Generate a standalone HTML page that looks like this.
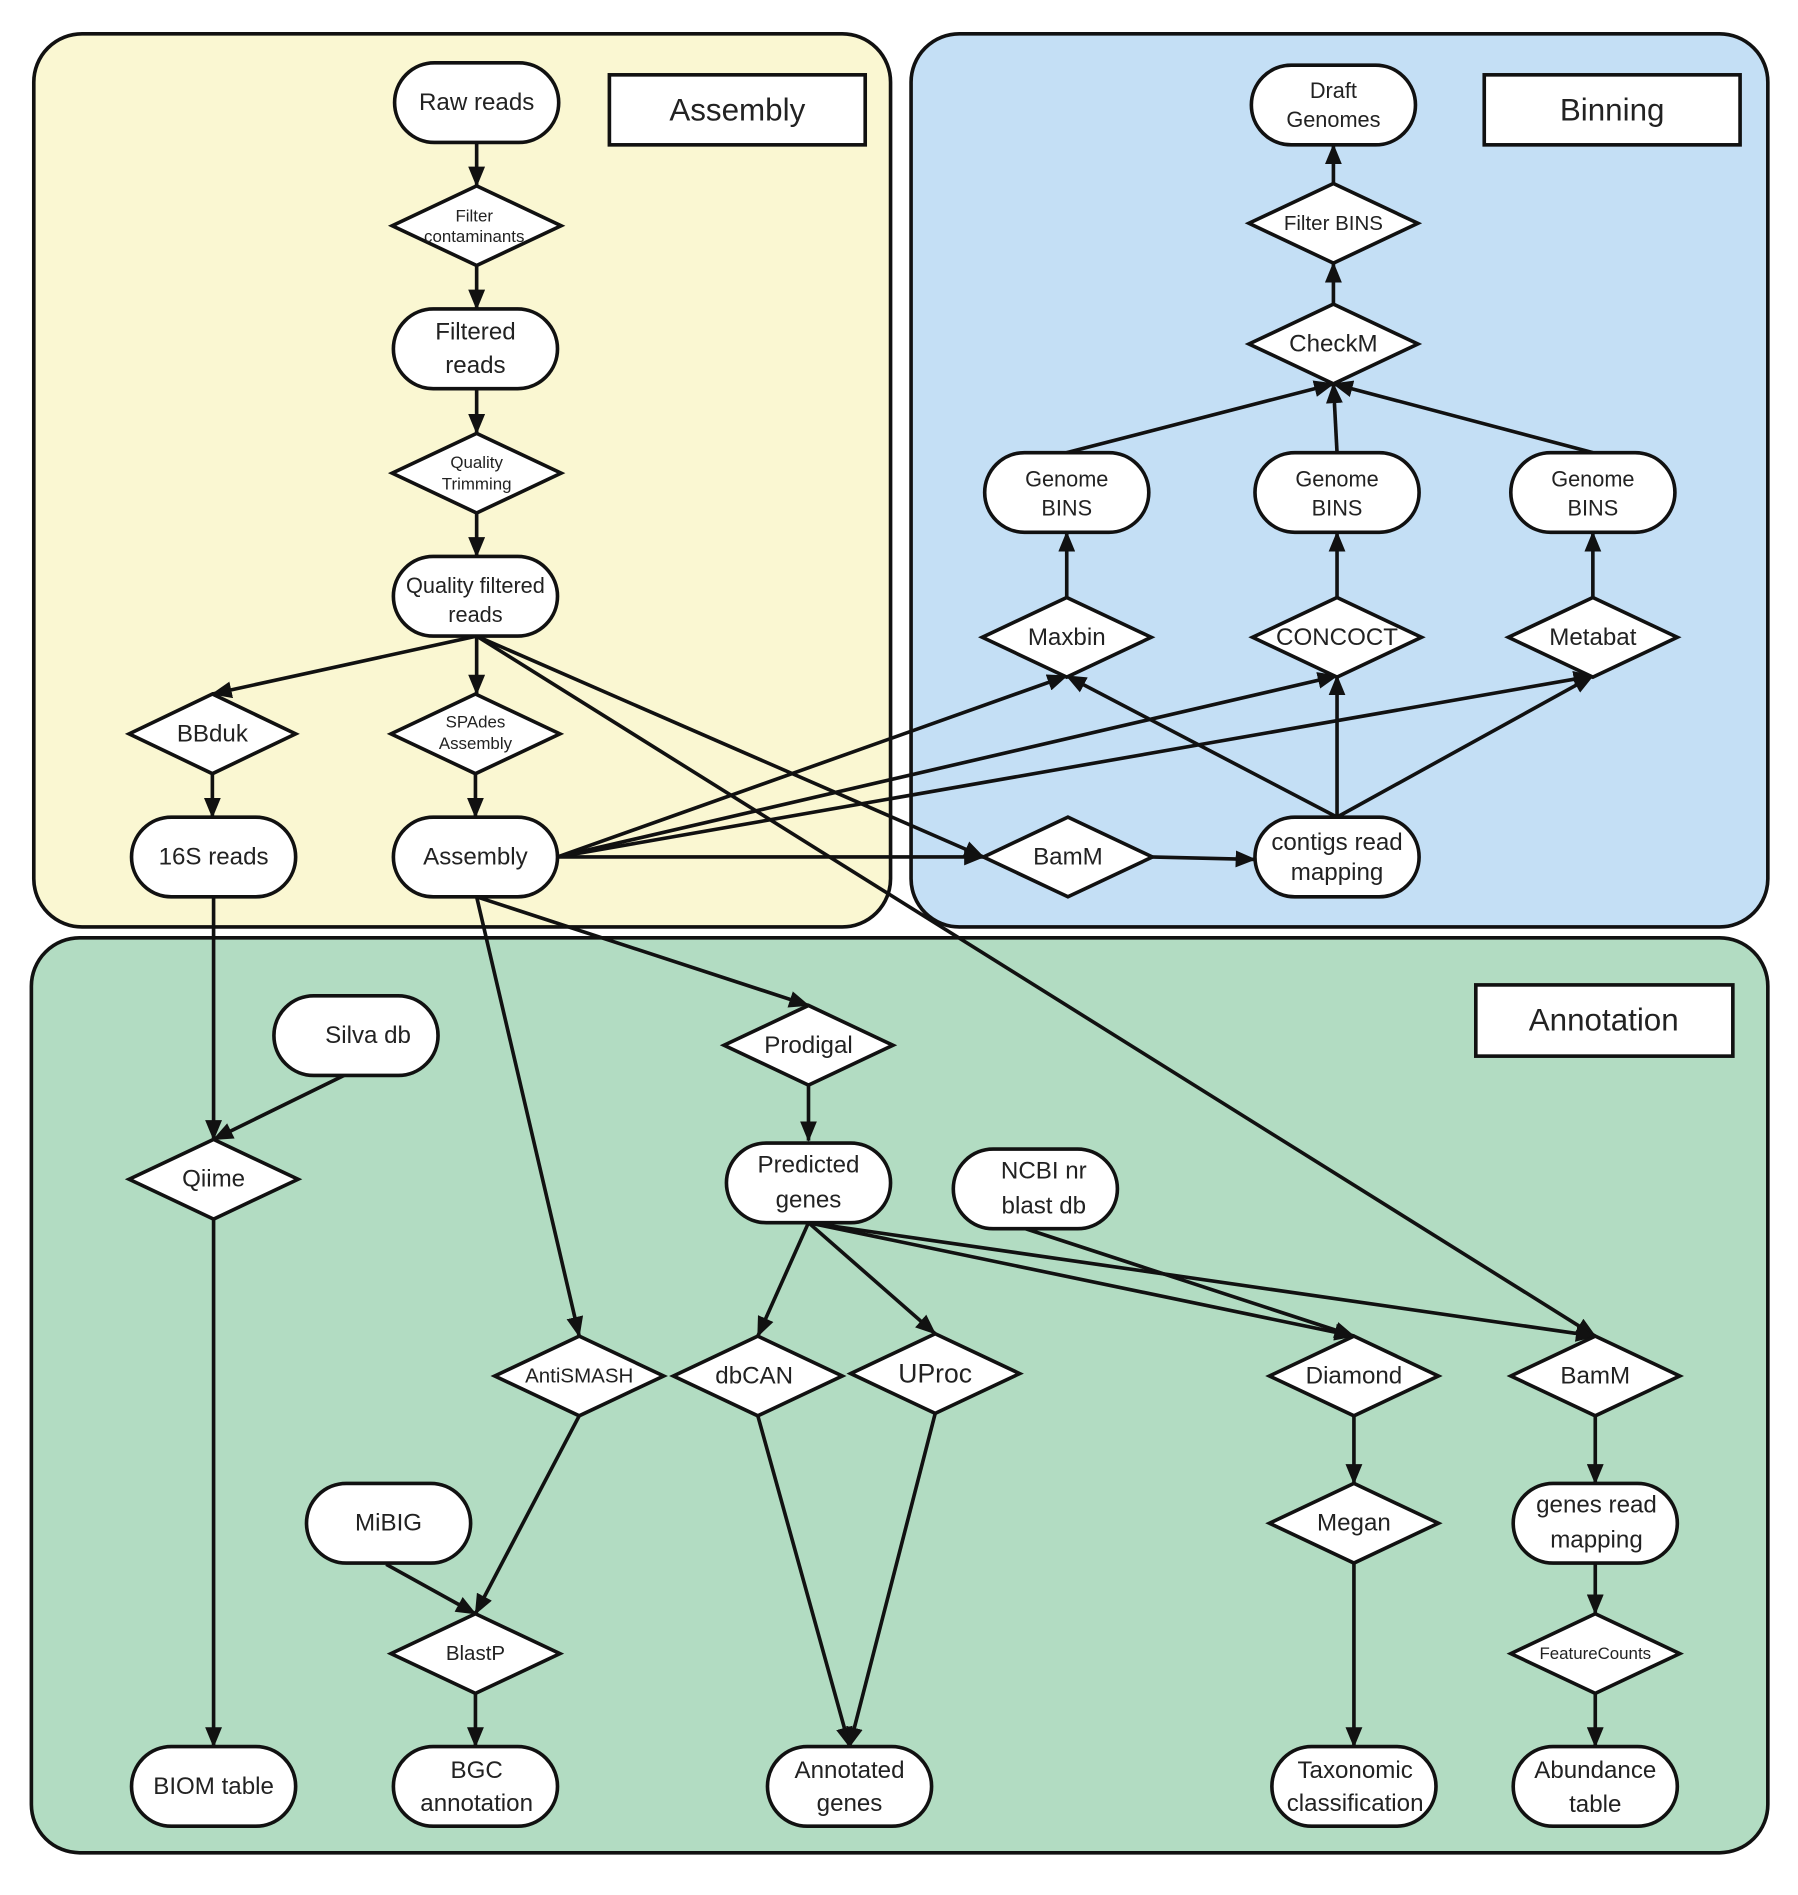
<!DOCTYPE html>
<html><head><meta charset="utf-8"><style>
html,body{margin:0;padding:0;background:#fff;}
svg{display:block;}
text{font-family:"Liberation Sans",sans-serif;fill:#222;text-anchor:middle;dominant-baseline:central;}
.n{fill:#fff;stroke:#111;stroke-width:3;}
.e{stroke:#111;stroke-width:3;fill:none;marker-end:url(#a);}
.t{font-size:20px;}
.s{font-size:14px;}
.l{font-size:26px;}
</style></head><body>
<svg width="1798" height="1895" viewBox="0 0 1490 1570" preserveAspectRatio="none" xmlns="http://www.w3.org/2000/svg">
<defs><marker id="a" markerUnits="userSpaceOnUse" markerWidth="18" markerHeight="14" refX="16" refY="7" orient="auto"><path d="M0,0 L17,7 L0,14 Z" fill="#111"/></marker></defs>
<rect x="28" y="28" width="710" height="740" rx="40" fill="#faf7d2" stroke="#111" stroke-width="3"/>
<rect x="755" y="28" width="710" height="740" rx="40" fill="#c4dff5" stroke="#111" stroke-width="3"/>
<rect x="26" y="777" width="1439" height="758" rx="40" fill="#b2dcc2" stroke="#111" stroke-width="3"/>
<rect x="505" y="62" width="212" height="58" fill="#fff" stroke="#111" stroke-width="3"/><text x="611" y="91" class="l">Assembly</text>
<rect x="1230" y="62" width="212" height="58" fill="#fff" stroke="#111" stroke-width="3"/><text x="1336" y="91" class="l">Binning</text>
<rect x="1223" y="816" width="213" height="59" fill="#fff" stroke="#111" stroke-width="3"/><text x="1329" y="845" class="l">Annotation</text>

<!-- edges -->
<path class="e" d="M395,118 L395,154"/>
<path class="e" d="M395,220 L395,256"/>
<path class="e" d="M395,322 L395,359"/>
<path class="e" d="M395,425 L395,461"/>
<path class="e" d="M395,527 L176,575"/>
<path class="e" d="M395,527 L395,575"/>
<path class="e" d="M395,527 L815,710"/>
<path class="e" d="M395,527 L1322,1107"/>
<path class="e" d="M176,641 L176,677"/>
<path class="e" d="M394,641 L394,677"/>
<path class="e" d="M462,710 L884,560"/>
<path class="e" d="M462,710 L1108,560"/>
<path class="e" d="M462,710 L1320,560"/>
<path class="e" d="M462,710 L815,710"/>
<path class="e" d="M953,710 L1040,712"/>
<path class="e" d="M1108,677 L884,560"/>
<path class="e" d="M1108,677 L1108,560"/>
<path class="e" d="M1108,677 L1320,560"/>
<path class="e" d="M884,495 L884,441"/>
<path class="e" d="M1108,495 L1108,441"/>
<path class="e" d="M1320,495 L1320,441"/>
<path class="e" d="M884,375 L1105,318"/>
<path class="e" d="M1108,375 L1105,318"/>
<path class="e" d="M1320,375 L1105,318"/>
<path class="e" d="M1105,252 L1105,218"/>
<path class="e" d="M1105,152 L1105,120"/>
<path class="e" d="M177,743 L177,944"/>
<path class="e" d="M285,891 L177,944"/>
<path class="e" d="M177,1010 L177,1447"/>
<path class="e" d="M395,743 L670,833"/>
<path class="e" d="M395,743 L480,1107"/>
<path class="e" d="M670,899 L670,945"/>
<path class="e" d="M670,1013 L628,1107"/>
<path class="e" d="M670,1013 L775,1105"/>
<path class="e" d="M670,1013 L1122,1107"/>
<path class="e" d="M670,1013 L1322,1107"/>
<path class="e" d="M850,1018 L1122,1107"/>
<path class="e" d="M480,1173 L394,1337"/>
<path class="e" d="M320,1296 L394,1337"/>
<path class="e" d="M394,1403 L394,1447"/>
<path class="e" d="M628,1173 L704,1447"/>
<path class="e" d="M775,1171 L704,1447"/>
<path class="e" d="M1122,1173 L1122,1229"/>
<path class="e" d="M1122,1295 L1122,1447"/>
<path class="e" d="M1322,1173 L1322,1229"/>
<path class="e" d="M1322,1295 L1322,1337"/>
<path class="e" d="M1322,1403 L1322,1447"/>

<!-- rect nodes: x = cx-68, y = cy-33 -->
<g class="t">
<rect class="n" x="327" y="52" width="136" height="66" rx="33"/><text x="395" y="85">Raw reads</text>
<rect class="n" x="326" y="256" width="136" height="66" rx="33"/><text x="394" y="275">Filtered</text><text x="394" y="303">reads</text>
<rect class="n" x="326" y="461" width="136" height="66" rx="33"/><text x="394" y="485" style="font-size:18px">Quality filtered</text><text x="394" y="509" style="font-size:18px">reads</text>
<rect class="n" x="109" y="677" width="136" height="66" rx="33"/><text x="177" y="710">16S reads</text>
<rect class="n" x="326" y="677" width="136" height="66" rx="33"/><text x="394" y="710">Assembly</text>
<rect class="n" x="1037" y="54" width="136" height="66" rx="33"/><text x="1105" y="75" style="font-size:18px">Draft</text><text x="1105" y="99" style="font-size:18px">Genomes</text>
<rect class="n" x="816" y="375" width="136" height="66" rx="33"/><text x="884" y="397" style="font-size:18px">Genome</text><text x="884" y="421" style="font-size:18px">BINS</text>
<rect class="n" x="1040" y="375" width="136" height="66" rx="33"/><text x="1108" y="397" style="font-size:18px">Genome</text><text x="1108" y="421" style="font-size:18px">BINS</text>
<rect class="n" x="1252" y="375" width="136" height="66" rx="33"/><text x="1320" y="397" style="font-size:18px">Genome</text><text x="1320" y="421" style="font-size:18px">BINS</text>
<rect class="n" x="1040" y="677" width="136" height="66" rx="33"/><text x="1108" y="698">contigs read</text><text x="1108" y="723">mapping</text>
<rect class="n" x="227" y="825" width="136" height="66" rx="33"/><text x="305" y="858">Silva db</text>
<rect class="n" x="602" y="947" width="136" height="66" rx="33"/><text x="670" y="965">Predicted</text><text x="670" y="994">genes</text>
<rect class="n" x="790" y="952" width="136" height="66" rx="33"/><text x="865" y="970">NCBI nr</text><text x="865" y="999">blast db</text>
<rect class="n" x="254" y="1229" width="136" height="66" rx="33"/><text x="322" y="1262">MiBIG</text>
<rect class="n" x="1254" y="1229" width="136" height="66" rx="33"/><text x="1323" y="1247">genes read</text><text x="1323" y="1276">mapping</text>
<rect class="n" x="109" y="1447" width="136" height="66" rx="33"/><text x="177" y="1480">BIOM table</text>
<rect class="n" x="326" y="1447" width="136" height="66" rx="33"/><text x="395" y="1467">BGC</text><text x="395" y="1494">annotation</text>
<rect class="n" x="636" y="1447" width="136" height="66" rx="33"/><text x="704" y="1467">Annotated</text><text x="704" y="1494">genes</text>
<rect class="n" x="1054" y="1447" width="136" height="66" rx="33"/><text x="1123" y="1467">Taxonomic</text><text x="1123" y="1494">classification</text>
<rect class="n" x="1254" y="1447" width="136" height="66" rx="33"/><text x="1322" y="1467">Abundance</text><text x="1322" y="1495">table</text>
</g>

<!-- diamonds -->
<g>
<polygon class="n" points="325,187 395,154 465,187 395,220"/><text x="393" y="179" class="s">Filter</text><text x="393" y="196" class="s">contaminants</text>
<polygon class="n" points="325,392 395,359 465,392 395,425"/><text x="395" y="383" class="s">Quality</text><text x="395" y="401" class="s">Trimming</text>
<polygon class="n" points="107,608 176,575 245,608 176,641"/><text x="176" y="608" class="t">BBduk</text>
<polygon class="n" points="324,608 394,575 464,608 394,641"/><text x="394" y="598" class="s">SPAdes</text><text x="394" y="616" class="s">Assembly</text>
<polygon class="n" points="1035,185 1105,152 1175,185 1105,218"/><text x="1105" y="185" style="font-size:17px">Filter BINS</text>
<polygon class="n" points="1035,285 1105,252 1175,285 1105,318"/><text x="1105" y="285" class="t">CheckM</text>
<polygon class="n" points="814,528 884,495 954,528 884,561"/><text x="884" y="528" class="t">Maxbin</text>
<polygon class="n" points="1038,528 1108,495 1178,528 1108,561"/><text x="1108" y="528" class="t">CONCOCT</text>
<polygon class="n" points="1250,528 1320,495 1390,528 1320,561"/><text x="1320" y="528" class="t">Metabat</text>
<polygon class="n" points="815,710 885,677 955,710 885,743"/><text x="885" y="710" class="t">BamM</text>
<polygon class="n" points="107,977 177,944 247,977 177,1010"/><text x="177" y="977" class="t">Qiime</text>
<polygon class="n" points="600,866 670,833 740,866 670,899"/><text x="670" y="866" class="t">Prodigal</text>
<polygon class="n" points="410,1140 480,1107 550,1140 480,1173"/><text x="480" y="1140" style="font-size:17px">AntiSMASH</text>
<polygon class="n" points="558,1140 628,1107 698,1140 628,1173"/><text x="625" y="1140" class="t">dbCAN</text>
<polygon class="n" points="705,1138 775,1105 845,1138 775,1171"/><text x="775" y="1138" style="font-size:22px">UProc</text>
<polygon class="n" points="1052,1140 1122,1107 1192,1140 1122,1173"/><text x="1122" y="1140" class="t">Diamond</text>
<polygon class="n" points="1252,1140 1322,1107 1392,1140 1322,1173"/><text x="1322" y="1140" class="t">BamM</text>
<polygon class="n" points="1052,1262 1122,1229 1192,1262 1122,1295"/><text x="1122" y="1262" class="t">Megan</text>
<polygon class="n" points="324,1370 394,1337 464,1370 394,1403"/><text x="394" y="1370" style="font-size:17px">BlastP</text>
<polygon class="n" points="1252,1370 1322,1337 1392,1370 1322,1403"/><text x="1322" y="1370" class="s">FeatureCounts</text>
</g>
</svg>
</body></html>
